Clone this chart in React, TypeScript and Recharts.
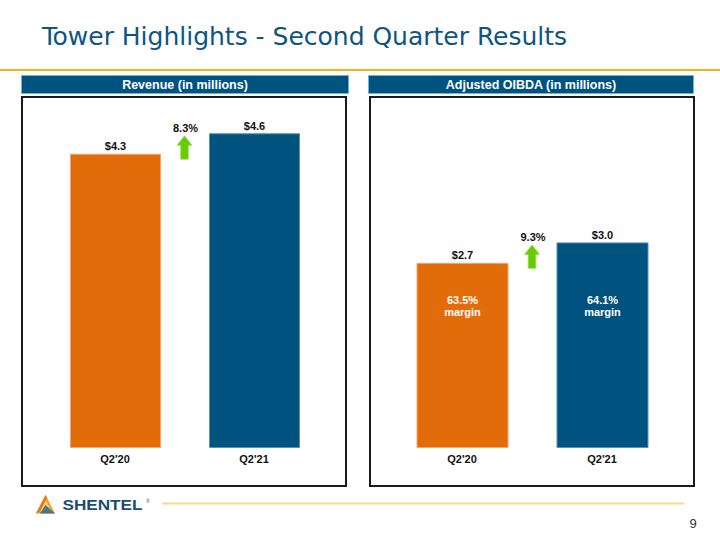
import React from "react";
import { BarChart, Bar, XAxis, YAxis, Cell, LabelList, ReferenceArea } from "recharts";

const categories = ["Q2'20", "Q2'21"];
const revenueValues = [4.3, 4.6];
const oibdaValues = [2.7, 3.0];
const revenueGrowth = "8.3%";
const oibdaGrowth = "9.3%";
const oibdaMargins = ["63.5%", "64.1%"];
const barColors = ["#E36C0A", "#00527F"];
const barStrokes = ["#F2A56A", "#5C8FB3"];

const revenueData = categories.map((c, i) => ({ name: c, value: revenueValues[i] }));
const oibdaData = categories.map((c, i) => ({ name: c, value: oibdaValues[i], margin: oibdaMargins[i] }));

const FONT = "'Liberation Sans', Arial, sans-serif";

const Tick = (props: any) => {
  const { x, y, payload } = props;
  return (
    <text x={x} y={y} dy="0.71em" textAnchor="middle" fontFamily={FONT} fontSize={11} fontWeight="bold" fill="#111">
      {payload.value}
    </text>
  );
};

const ValueLabel = (props: any) => {
  const { x, y, width, value } = props;
  return (
    <text x={x + width / 2} y={y - 4} textAnchor="middle" fontFamily={FONT} fontSize={11} fontWeight="bold" fill="#111">
      {"$" + Number(value).toFixed(1)}
    </text>
  );
};

const MarginLabel = (props: any) => {
  const { x, y, width, height, value } = props;
  const bottom = y + height;
  const cx = x + width / 2;
  return (
    <g>
      <text x={cx} y={bottom - 144} textAnchor="middle" fontFamily={FONT} fontSize={11} fontWeight="bold" fill="#fff">
        {value}
      </text>
      <text x={cx} y={bottom - 132} textAnchor="middle" fontFamily={FONT} fontSize={11} fontWeight="bold" fill="#fff">
        margin
      </text>
    </g>
  );
};

const makeArrow = (label: string) => (props: any) => {
  const { x, y, width, height } = props;
  const cx = x + width / 2;
  const top = y + 2;
  const bottom = y + height + 5;
  const headH = 9.5;
  const headW = 7.5;
  const stemW = 3.8;
  const pts = [
    [cx, top],
    [cx + headW, top + headH],
    [cx + stemW, top + headH],
    [cx + stemW, bottom],
    [cx - stemW, bottom],
    [cx - stemW, top + headH],
    [cx - headW, top + headH],
  ]
    .map((p) => p.join(","))
    .join(" ");
  return (
    <g>
      <polygon points={pts} fill="#66CC00" stroke="#9BE060" strokeWidth={0.8} />
      <text x={cx + 1} y={top - 4} textAnchor="middle" fontFamily={FONT} fontSize={11} fontWeight="bold" fill="#111">
        {label}
      </text>
    </g>
  );
};

export default function App() {
  return (
    <div style={{ position: "absolute", left: 0, top: 0, width: 720, height: 540, background: "#fff", overflow: "hidden" }}>
      <svg width={720} height={540} style={{ position: "absolute", left: 0, top: 0 }}>
        <text
          x={42}
          y={45}
          fontFamily="'DejaVu Sans Condensed', 'DejaVu Sans', Tahoma, sans-serif"
          fontSize={25}
          fill="#0D5583"
          textLength={525}
          lengthAdjust="spacingAndGlyphs"
        >
          Tower Highlights - Second Quarter Results
        </text>
        <rect x={0} y={69} width={720} height={2} fill="#F5B316" />

        <rect x={21.5} y={75.5} width={327} height={18} fill="#00527F" stroke="#6FB3E0" strokeWidth={1} />
        <text x={185} y={88.5} textAnchor="middle" fontFamily="'Liberation Sans Narrow', 'Liberation Sans', Arial, sans-serif" fontSize={12.5} fontWeight="bold" fill="#fff">
          Revenue (in millions)
        </text>
        <rect x={368.5} y={75.5} width={325} height={18} fill="#00527F" stroke="#6FB3E0" strokeWidth={1} />
        <text x={531} y={88.5} textAnchor="middle" fontFamily="'Liberation Sans Narrow', 'Liberation Sans', Arial, sans-serif" fontSize={12.5} fontWeight="bold" fill="#fff">
          Adjusted OIBDA (in millions)
        </text>

        <rect x={22} y={97} width={324} height={389} fill="none" stroke="#1a1a1a" strokeWidth={2} />
        <rect x={370} y={97} width={324} height={389} fill="none" stroke="#1a1a1a" strokeWidth={2} />

        <g>
          <polygon points="36,513.5 45.5,495 55,513.5" fill="#F39A2B" />
          <polygon points="39.5,511.5 45.5,499.5 51.5,511.5" fill="#FCD45A" />
          <polygon points="45.5,505 55,513.5 40,513.5" fill="#2A6A98" opacity={0.85} />
          <polygon points="45.5,495 47,498 40,511.5 36,513.5" fill="#E8761E" />
        </g>
        <text x={62.5} y={509.5} fontFamily={FONT} fontSize={15} fontWeight="bold" fill="#1B4D72" textLength={80} lengthAdjust="spacingAndGlyphs">
          SHENTEL
        </text>
        <text x={146} y={503} fontFamily={FONT} fontSize={5} fill="#1B4D72">
          ®
        </text>
        <rect x={162} y={502.5} width={522} height={2} fill="#FAD98A" />
        <text x={693} y={527.5} textAnchor="middle" fontFamily={FONT} fontSize={13} fill="#333">
          9
        </text>
      </svg>

      <div style={{ position: "absolute", left: 21, top: 96 }}>
        <BarChart width={326} height={391} data={revenueData} margin={{ top: 10.5, right: 23.5, left: 24.5, bottom: 9.5 }}>
          <XAxis dataKey="name" axisLine={false} tickLine={false} tick={<Tick />} height={30} interval={0} />
          <YAxis hide domain={[0, 5]} />
          <ReferenceArea
            x1={categories[0]}
            x2={categories[1]}
            y1={revenueValues[0]}
            y2={revenueValues[1]}
            shape={makeArrow(revenueGrowth)}
            ifOverflow="visible"
          />
          <Bar dataKey="value" barSize={90} isAnimationActive={false}>
            {revenueData.map((d, i) => (
              <Cell key={d.name} fill={barColors[i]} stroke={barStrokes[i]} strokeWidth={1} />
            ))}
            <LabelList dataKey="value" content={<ValueLabel />} />
          </Bar>
        </BarChart>
      </div>

      <div style={{ position: "absolute", left: 369, top: 96 }}>
        <BarChart width={326} height={391} data={oibdaData} margin={{ top: 10.5, right: 23, left: 23, bottom: 9.5 }}>
          <XAxis dataKey="name" axisLine={false} tickLine={false} tick={<Tick />} height={30} interval={0} />
          <YAxis hide domain={[0, 5]} />
          <ReferenceArea
            x1={categories[0]}
            x2={categories[1]}
            y1={oibdaValues[0]}
            y2={oibdaValues[1]}
            shape={makeArrow(oibdaGrowth)}
            ifOverflow="visible"
          />
          <Bar dataKey="value" barSize={91} isAnimationActive={false}>
            {oibdaData.map((d, i) => (
              <Cell key={d.name} fill={barColors[i]} stroke={barStrokes[i]} strokeWidth={1} />
            ))}
            <LabelList dataKey="value" content={<ValueLabel />} />
            <LabelList dataKey="margin" content={<MarginLabel />} />
          </Bar>
        </BarChart>
      </div>
    </div>
  );
}
